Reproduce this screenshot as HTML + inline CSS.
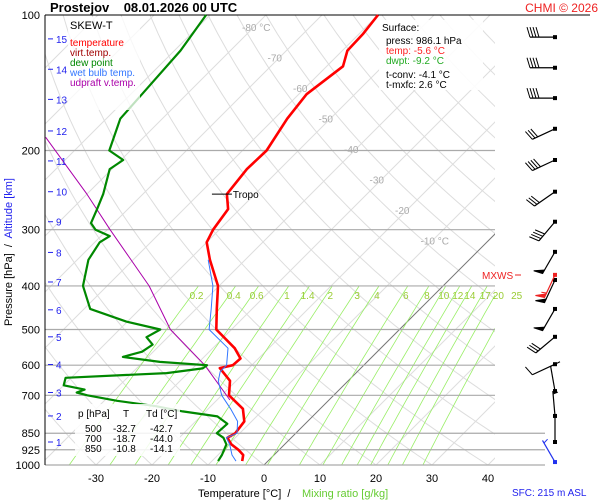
<!DOCTYPE html>
<html><head><meta charset="utf-8"><style>
body{margin:0;background:#fff}
svg{display:block;font-family:"Liberation Sans",sans-serif}
</style></head><body>
<svg id="chart" width="600" height="500" viewBox="0 0 600 500" xmlns="http://www.w3.org/2000/svg">
<rect width="600" height="500" fill="#ffffff"/>
<g id="grid"></g>
<g id="series"></g>
<g id="winds"></g>
<g id="labels"></g>

<text x="50" y="12" font-size="13" font-weight="bold" xml:space="preserve">Prostejov    08.01.2026 00 UTC</text>
<text x="598" y="12" font-size="12" fill="#ee2222" text-anchor="end">CHMI © 2026</text>

<g>
<rect x="68" y="17" width="72" height="93" fill="#fff" opacity="0.75"/>
<text x="70" y="29" font-size="11">SKEW-T</text>
<text x="70" y="46" font-size="10" fill="#ff0000">temperature</text>
<text x="70" y="56" font-size="10" fill="#a00000">virt.temp.</text>
<text x="70" y="66" font-size="10" fill="#008800">dew point</text>
<text x="70" y="76" font-size="10" fill="#3377ff">wet bulb temp.</text>
<text x="70" y="86" font-size="10" fill="#aa00aa">udpraft v.temp.</text>
</g>

<g>
<rect x="379" y="20" width="104" height="70" fill="#fff" opacity="0.9"/>
<text x="382" y="31" font-size="10">Surface:</text>
<text x="386" y="44" font-size="10">press: 986.1 hPa</text>
<text x="386" y="54" font-size="10" fill="#ff2222">temp: -5.6 °C</text>
<text x="386" y="64" font-size="10" fill="#22aa22">dwpt: -9.2 °C</text>
<text x="386" y="78" font-size="10">t-conv: -4.1 °C</text>
<text x="386" y="88" font-size="10">t-mxfc: 2.6 °C</text>
</g>

<g font-size="10">
<rect x="75" y="404" width="105" height="52" fill="#fff" opacity="0.85"/>
<text x="78" y="417">p [hPa]</text><text x="123" y="417">T</text><text x="146" y="417">Td [°C]</text>
<text x="85" y="432">500</text><text x="113" y="432">-32.7</text><text x="150" y="432">-42.7</text>
<text x="85" y="442">700</text><text x="113" y="442">-18.7</text><text x="150" y="442">-44.0</text>
<text x="85" y="452">850</text><text x="113" y="452">-10.8</text><text x="150" y="452">-14.1</text>
</g>

<text x="198" y="497" font-size="11" xml:space="preserve">Temperature [°C]  /</text>
<text x="302" y="497" font-size="11" fill="#66cc33">Mixing ratio [g/kg]</text>
<text x="512" y="496" font-size="10" fill="#2222ee">SFC: 215 m ASL</text>
<text transform="translate(12,252) rotate(-90)" font-size="11" text-anchor="middle" xml:space="preserve"><tspan>Pressure [hPa]  /  </tspan><tspan fill="#2222ee">Altitude [km]</tspan></text>
<text x="482" y="279" font-size="10" fill="#ee2222">MXWS</text>
<line x1="515" y1="275" x2="521" y2="275" stroke="#ee2222"/>
</svg>
<script>
// ---------- data ----------
const pressureTicks=[100,200,300,400,500,600,700,850,925,1000];
const tempTicks=[-30,-20,-10,0,10,20,30,40];
const kmTicks=[1,2,3,4,5,6,7,8,9,10,11,12,13,14,15];
const kmPressure=[889,778,690,598,519,452,392,337,288,247,211,181,154,132,113];
const mixRatios=[0.2,0.4,0.6,1,1.4,2,3,4,6,8,10,12,14,17,20,25];
const tempP=[100,110,120,130,150,170,200,220,250,270,300,320,350,400,450,500,550,580,600,609,650,700,750,800,850,870,900,925,950,980];
const tempT=[-60,-59.3,-59.1,-57.1,-58.6,-57.7,-55.7,-55.9,-55,-52.1,-51.1,-50,-46.3,-40.2,-36.3,-32.7,-26.1,-23.2,-23.4,-25.2,-21.1,-18.7,-13.8,-11.3,-10.8,-11.4,-9.5,-7.3,-5.5,-4.6];
const dewP=[100,120,150,170,200,210,220,250,270,290,300,310,320,350,400,450,480,500,520,540,560,575,590,600,610,625,640,665,680,690,700,720,740,760,780,810,850,870,900,950,980];
const dewT=[-90.7,-88.9,-88,-87.5,-83.8,-79.6,-80.4,-77.1,-75.5,-74.1,-72.1,-68.4,-69.1,-68,-64.3,-58.9,-50.2,-42.7,-43.8,-41.4,-42,-44.5,-37,-28,-28.2,-33.8,-51,-50,-45.5,-46.4,-44,-37.7,-29.8,-24.1,-17,-13.9,-14.1,-12.1,-10.4,-9.3,-8.9];
const wetP=[350,400,450,500,550,600,620,650,700,750,800,850,870,900,950,980];
const wetT=[-46.6,-41.1,-37.3,-34,-27.3,-24.5,-24.5,-23.2,-20,-16,-12.5,-10.5,-11.6,-9.8,-7.5,-5.7];
const updP=[187,250,300,400,500,600,717];
const updT=[-97.5,-80,-69.5,-52.5,-40.9,-28.4,-17.7];
const windP=[112,131,153,179,210,247,288,336,388,450,519,597,685,778,889,985];
const windDir=[270,270,270,245,245,235,220,210,205,210,230,245,350,355,360,330];
const windSpd=[40,40,40,30,40,30,40,50,50,50,30,10,10,5,0,5];
const mxwsP=378, mxwsDir=205, mxwsSpd=55;

// ---------- axes ----------
const NS="http://www.w3.org/2000/svg";
function yP(p){return 15+450*Math.log10(p/100);}
function xT(t,p){return 264+5.6*t+(465-yP(p));}
function mk(tag,attrs,parent){const e=document.createElementNS(NS,tag);for(const k in attrs)e.setAttribute(k,attrs[k]);parent.appendChild(e);return e;}
const grid=document.getElementById('grid'),ser=document.getElementById('series'),wg=document.getElementById('winds'),lab=document.getElementById('labels');
const clip=mk('clipPath',{id:'plotclip'},grid);mk('rect',{x:45,y:15,width:450,height:450},clip);
const gc=mk('g',{'clip-path':'url(#plotclip)'},grid);

for(let th=-40;th<=200;th+=10){let d='';for(let p=1000;p>=100;p-=10){const t=(th+273.15)*Math.pow(p/1000,0.286)-273.15;d+=(d?'L':'M')+xT(t,p).toFixed(1)+','+yP(p).toFixed(1);}
const e=mk('path',{d:d,fill:'none',stroke:'#dddddd','stroke-width':1},gc);

}
for(let t=-160;t<=40;t+=10){const e=mk('line',{x1:xT(t,1000),y1:yP(1000),x2:xT(t,100),y2:yP(100),stroke:t===0?'#777':'#dddddd','stroke-width':1},gc);

}
function tdFromW(w,p){const e=w*p/(622+w);const l=Math.log(e/6.112);return 243.5*l/(17.67-l);}
mixRatios.forEach(w=>{let d='';for(let p=1000;p>=400;p-=20){d+=(d?'L':'M')+xT(tdFromW(w,p),p).toFixed(1)+','+yP(p).toFixed(1);}
const e=mk('path',{d:d,fill:'none',stroke:'#99ee66','stroke-width':0.8},gc);


const tx=mk('text',{x:xT(tdFromW(w,400),400)-2,y:299,'font-size':10,fill:'#99cc33','text-anchor':'middle'},lab);tx.textContent=w;

});
[-80,-70,-60,-50,-40,-30,-20,-10].forEach((t,i)=>{const yy=27+i*30.5;const p=100*Math.pow(10,(yy-15)/450);
const tx=mk('text',{x:xT(t,p)-12,y:yy+4,'font-size':10,fill:'#aaaaaa'},lab);tx.textContent=(t===-80||t===-10)?t+' °C':t;

});
pressureTicks.forEach(p=>{const y=yP(p);const ext=p>=850?545:495;
if(p>100){const e=mk('line',{x1:45,y1:y,x2:ext,y2:y,stroke:'#aaaaaa','stroke-width':1.2},grid);

}
const tx=mk('text',{x:40,y:y+4,'font-size':11,'text-anchor':'end'},lab);tx.textContent=p;

});
mk('line',{x1:45,y1:15,x2:590,y2:15,stroke:'#000','stroke-width':1},grid);
mk('line',{x1:45,y1:15,x2:45,y2:465,stroke:'#000','stroke-width':1},grid);
tempTicks.forEach(t=>{const tx=mk('text',{x:xT(t,1000),y:482,'font-size':11,'text-anchor':'middle'},lab);tx.textContent=t;

});
kmTicks.forEach((k,i)=>{const y=yP(kmPressure[i]);mk('line',{x1:48,y1:y,x2:53,y2:y,stroke:'#2222ee'},lab);
const tx=mk('text',{x:56,y:y+4,'font-size':10,fill:'#2222ee'},lab);tx.textContent=k;

});

// ---------- series ----------
function line(P,T,color,w,name){let d='';P.forEach((p,i)=>{d+=(i?'L':'M')+xT(T[i],p).toFixed(1)+','+yP(p).toFixed(1);});
const e=mk('path',{d:d,fill:'none',stroke:color,'stroke-width':w,'stroke-linejoin':'round'},ser);

}
line(updP,updT,'#aa00aa',1,'updraft-line');
line(dewP,dewT,'#008800',2.2,'dewpoint-line');
line(tempP,tempT,'#ff0000',2.6,'temperature-line');
line(wetP,wetT,'#3377ff',1,'wet-bulb-line');
const tp=250,ty=yP(tp),tx0=xT(-55,tp);
mk('line',{x1:tx0-15,y1:ty,x2:tx0+5,y2:ty,stroke:'#000'},ser);
const tt=mk('text',{x:tx0+6,y:ty+4,'font-size':10},ser);tt.textContent='Tropo';



// ---------- winds ----------
function barb(p,dir,spd,color,name){const x=555,y=yP(p);const a=dir*Math.PI/180;const ux=Math.sin(a),uy=-Math.cos(a);const L=25;
const g=mk('g',{stroke:color,fill:color},wg);


const ex=x+ux*L,ey=y+uy*L;mk('line',{x1:x,y1:y,x2:ex,y2:ey,'stroke-width':1.2},g);
mk('rect',{x:x-2,y:y-2,width:4,height:4,stroke:'none'},g);
const px=-uy,py=ux;let s=spd,pos=0;
while(s>=50){const bx=ex-ux*pos,by=ey-uy*pos;mk('polygon',{points:`${bx},${by} ${bx+px*9+ux*2},${by+py*9+uy*2} ${bx-ux*4},${by-uy*4}`},g);pos+=5;s-=50;}
while(s>=10){const bx=ex-ux*pos,by=ey-uy*pos;mk('line',{x1:bx,y1:by,x2:bx+px*10+ux*3,y2:by+py*10+uy*3},g);pos+=3;s-=10;}
if(s>=5){if(pos===0)pos=3;const bx=ex-ux*pos,by=ey-uy*pos;mk('line',{x1:bx,y1:by,x2:bx+px*5+ux*1.5,y2:by+py*5+uy*1.5},g);}}
windP.forEach((p,i)=>barb(p,windDir[i],windSpd[i],i===windP.length-1?'#2233ee':'#000','wind-barb'));
barb(mxwsP,mxwsDir,mxwsSpd,'#ee2222','max-wind-barb');
</script>
</body></html>
